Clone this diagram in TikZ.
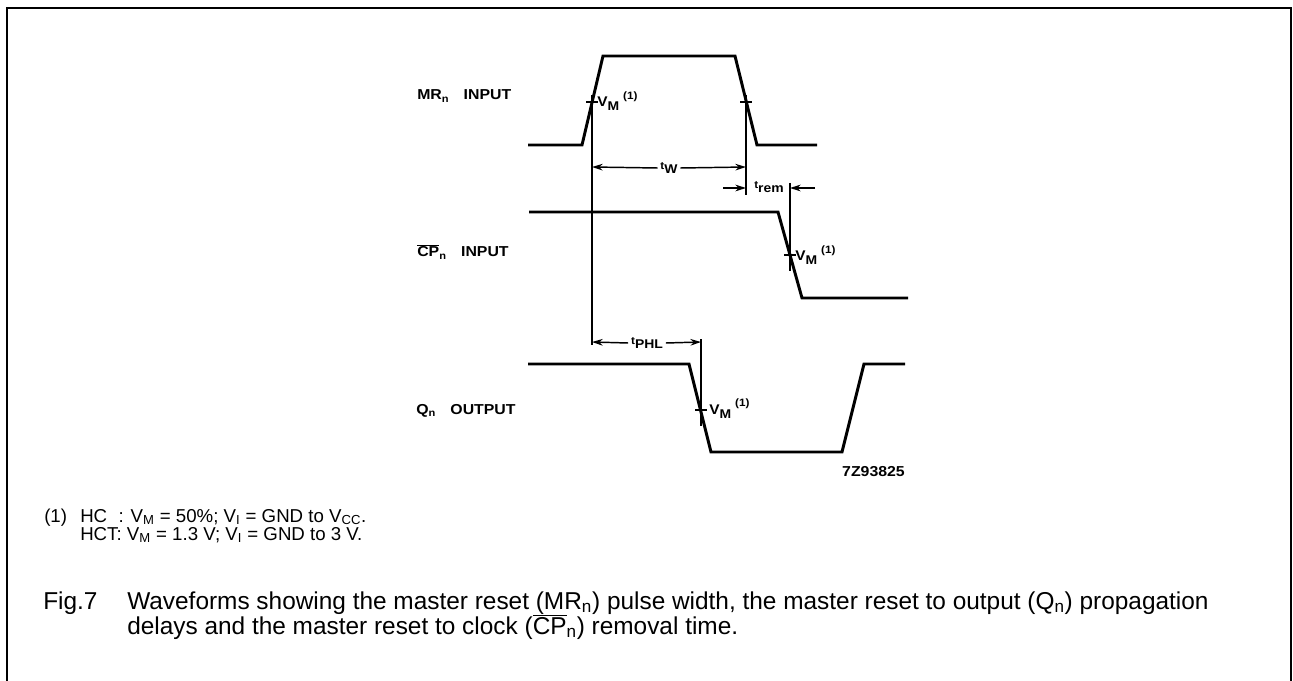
\documentclass[tikz,border=0pt]{standalone}
\usepackage{fontspec}
\setmainfont{Liberation Sans}
\newfontfamily\lblfont[FakeStretch=1.1]{Liberation Sans}
\usetikzlibrary{arrows.meta}

\tikzset{
  wave/.style={black, line width=2.2pt, line join=miter},
  guide/.style={black, line width=0.9pt},
  dim/.style={black, line width=1.1pt, -{Stealth[length=8pt,width=5pt]}},
  siglabel/.style={font=\lblfont\bfseries\fontsize{10.8}{12}\selectfont, anchor=base west, inner sep=0pt},
  vmlabel/.style={font=\lblfont\bfseries\fontsize{10.5}{12}\selectfont, anchor=base west, inner sep=0pt},
  note/.style={font=\fontsize{14}{16}\selectfont, anchor=base west, inner sep=0pt},
  caption/.style={font=\fontsize{18.3}{20}\selectfont, anchor=base west, inner sep=0pt},
}
\newcommand{\vmref}{V\raisebox{-3pt}{\fontsize{9.5}{10}\selectfont M}\hspace{3pt}\raisebox{5.5pt}{\fontsize{8}{9}\selectfont(1)}}
\newcommand{\tsub}[1]{{\fontsize{8}{9}\selectfont t}\raisebox{-2.5pt}{\fontsize{9.5}{10}\selectfont #1}}

\begin{document}
\begin{tikzpicture}[x=0.75pt, y=-0.75pt]
\useasboundingbox (0,0) rectangle (1293,681);
\draw[black, line width=1.5pt] (7,681) -- (7,8) -- (1291,8) -- (1291,681);

% MR_n input
\draw[wave] (528,145) -- (582,145) -- (603,56) -- (735,56) -- (757,145) -- (817,145);
\node[siglabel] (mrlabel) at (417,100) {MR\textsubscript{n}\hspace{1em}INPUT};
\coordinate (mrup) at (592,102);
\coordinate (mrdown) at (746,102);
\draw[guide, line width=1.3pt] (586,102) -- (598,102);
\draw[guide, line width=1.3pt] (740,102) -- (752,102);
\node[vmlabel] (vmmr) at (597,107) {\vmref};

% CP_n input
\draw[wave] (529,212) -- (778,212) -- (802,298) -- (908,298);
\node[siglabel] (cplabel) at (417,257) {$\overline{\mbox{CP}}$\textsubscript{n}\hspace{1em}INPUT};
\coordinate (cpdown) at (790,255);
\draw[guide, line width=1.3pt] (784,255) -- (796,255);
\node[vmlabel] (vmcp) at (795,261) {\vmref};

% Q_n output
\draw[wave] (528,364) -- (689,364) -- (711,452) -- (842,452) -- (864,364) -- (905,364);
\node[siglabel] (qlabel) at (416,414) {Q\textsubscript{n}\hspace{1em}OUTPUT};
\coordinate (qdown) at (701,410);
\draw[guide, line width=1.3pt] (695,410) -- (707,410);
\node[vmlabel] (vmq) at (709,414) {\vmref};
\node[siglabel, anchor=base east] (figid) at (905,476) {7Z93825};

% reference lines
\draw[guide] ([yshift=5.3pt]mrup) -- (592,345);
\draw[guide] ([yshift=5.3pt]mrdown) -- (746,195);
\draw[guide] (790,183) -- ([yshift=-12pt]cpdown);
\draw[guide] (701,339) -- ([yshift=-12pt]qdown);

% t_W
\node[vmlabel, anchor=center] (tw) at (669,168) {\tsub{W}};
\draw[dim] ([xshift=-2pt]tw.west) -- (592,167);
\draw[dim] ([xshift=2pt]tw.east) -- (746,167);

% t_rem
\node[vmlabel, anchor=center] (trem) at (769,187) {\tsub{rem}};
\draw[dim] (723,188) -- (746,188);
\draw[dim] (815,188) -- (790,188);

% t_PHL
\node[vmlabel, anchor=center] (tphl) at (647,343) {\tsub{PHL}};
\draw[dim] ([xshift=-2pt]tphl.west) -- (592,342);
\draw[dim] ([xshift=2pt]tphl.east) -- (701,342);

% notes
\node[note] (n1) at (44,522) {(1)};
\node[note] (n2) at (80,522) {\rlap{HC}\phantom{HCT}: V\textsubscript{M} = 50\%; V\textsubscript{I} = GND to V\textsubscript{CC}.};
\node[note] (n3) at (80,540) {HCT: V\textsubscript{M} = 1.3 V; V\textsubscript{I} = GND to 3 V.};
\node[caption] (fig) at (43,609) {Fig.7};
\node[caption] (cap1) at (127,609) {Waveforms showing the master reset (MR\textsubscript{n}) pulse width, the master reset to output (Q\textsubscript{n}) propagation};
\node[caption] (cap2) at (127,634) {delays and the master reset to clock ($\overline{\mbox{CP}}$\textsubscript{n}) removal time.};
\end{tikzpicture}
\end{document}
